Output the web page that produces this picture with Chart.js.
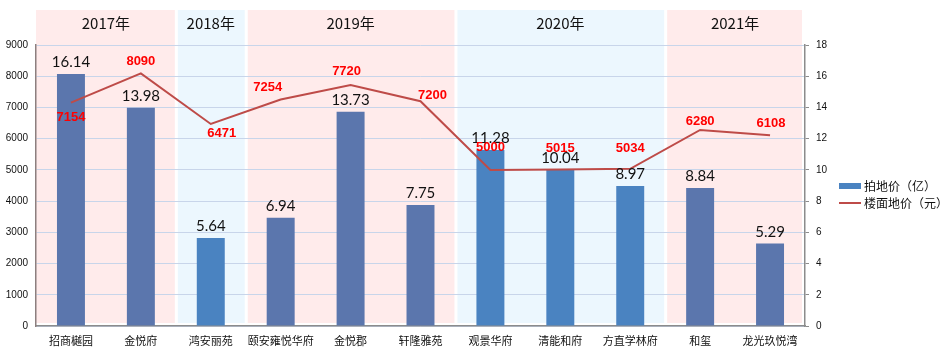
<!DOCTYPE html>
<html>
<head>
<meta charset="utf-8">
<script src="https://cdn.jsdelivr.net/npm/chart.js@4/dist/chart.umd.min.js"></script>
<style>
html,body{margin:0;padding:0;background:#fff;}
#wrap{width:943px;height:357px;position:relative;}
</style>
</head>
<body>
<div id="wrap"><canvas id="c" width="943" height="357"></canvas></div>
<script>
const categories = ['招商樾园','金悦府','鸿安丽苑','颐安雍悦华府','金悦郡','轩隆雅苑','观景华府','清能和府','方直学林府','和玺','龙光玖悦湾'];
const landPrice = [16.14, 13.98, 5.64, 6.94, 13.73, 7.75, 11.28, 10.04, 8.97, 8.84, 5.29];
const floorPrice = [7154, 8090, 6471, 7254, 7720, 7200, 5000, 5015, 5034, 6280, 6108];
const yearLabels = ['2017年','2018年','2019年','2020年','2021年'];
const yearCounts = [2, 1, 3, 3, 2];
const leftTicks = [0,1000,2000,3000,4000,5000,6000,7000,8000,9000];
const rightTicks = [0,2,4,6,8,10,12,14,16,18];
const seriesNames = ['拍地价（亿）','楼面地价（元）'];

// group index of each category (for colours)
const groupOf = [];
yearCounts.forEach((n, g) => { for (let i = 0; i < n; i++) groupOf.push(g); });
const barColors = groupOf.map(g => g % 2 === 0 ? '#5B76AD' : '#4A83C1');

// label placement offsets (dx, dy) for floor price labels
const lineLabelOffsets = [[0,15],[0,-12],[11,9],[-13,-12],[-4,-14],[12,-6],[0,-22],[0,-21],[0,-20],[0,-9],[1,-12]];

const bandsPlugin = {
  id: 'bands',
  beforeDraw(chart) {
    const {ctx, chartArea} = chart;
    const cw = (chartArea.right - chartArea.left) / categories.length;
    let idx = 0;
    ctx.save();
    yearCounts.forEach((n, g) => {
      const l0 = chartArea.left + idx * cw;
      const r0 = chartArea.left + (idx + n) * cw;
      const l = g === 0 ? l0 : l0 + 2;
      const r = g === yearCounts.length - 1 ? r0 - 3 : r0 - 1;
      ctx.fillStyle = g % 2 === 0 ? '#FFEBEB' : '#ECF7FE';
      ctx.fillRect(l, 10, r - l, chartArea.bottom - 3 - 10);
      ctx.fillStyle = '#111';
      ctx.font = '15px "Noto Sans CJK SC"';
      ctx.textAlign = 'center';
      ctx.textBaseline = 'middle';
      ctx.fillText(yearLabels[g], (l0 + r0) / 2, 23);
      idx += n;
    });
    ctx.restore();
  }
};

const labelsPlugin = {
  id: 'vlabels',
  afterDatasetsDraw(chart) {
    const {ctx} = chart;
    ctx.save();
    ctx.textAlign = 'center';
    const barMeta = chart.getDatasetMeta(0);
    ctx.font = '15px Lato';
    ctx.fillStyle = '#111';
    ctx.textBaseline = 'bottom';
    barMeta.data.forEach((el, i) => {
      ctx.fillText(landPrice[i].toFixed(2), el.x, el.y - 4);
    });
    const lineMeta = chart.getDatasetMeta(1);
    ctx.font = 'bold 13px "Liberation Sans"';
    ctx.fillStyle = '#FF0000';
    ctx.textBaseline = 'middle';
    lineMeta.data.forEach((el, i) => {
      const o = lineLabelOffsets[i];
      ctx.fillText(String(floorPrice[i]), el.x + o[0], el.y + o[1]);
    });
    ctx.restore();
  }
};

const legendPlugin = {
  id: 'customLegend',
  afterDraw(chart) {
    const {ctx} = chart;
    ctx.save();
    ctx.fillStyle = '#4A83C1';
    ctx.fillRect(839, 183, 22, 6);
    ctx.strokeStyle = '#BE4B48';
    ctx.lineWidth = 2;
    ctx.beginPath(); ctx.moveTo(839, 203); ctx.lineTo(861, 203); ctx.stroke();
    ctx.fillStyle = '#111';
    ctx.font = '12px "Noto Sans CJK SC"';
    ctx.textAlign = 'left';
    ctx.textBaseline = 'middle';
    ctx.fillText(seriesNames[0], 864, 186);
    ctx.fillText(seriesNames[1], 864, 203);
    ctx.restore();
  }
};

new Chart(document.getElementById('c'), {
  data: {
    labels: categories,
    datasets: [
      {
        type: 'bar', label: seriesNames[0], data: landPrice, yAxisID: 'y1',
        backgroundColor: barColors, barPercentage: 0.4, categoryPercentage: 1, order: 2
      },
      {
        type: 'line', label: seriesNames[1], data: floorPrice, yAxisID: 'y',
        borderColor: '#BE4B48', borderWidth: 2, pointRadius: 0, tension: 0, fill: false, order: 1
      }
    ]
  },
  options: {
    responsive: false,
    animation: false,
    layout: {padding: {top: 45, left: 0, right: 0, bottom: 0}},
    plugins: {legend: {display: false}, tooltip: {enabled: false}},
    scales: {
      x: {
        type: 'category', offset: true,
        grid: {display: false, drawTicks: false},
        border: {color: '#8C8C8C', width: 1.5},
        ticks: {padding: 8, color: '#111', font: {family: '"Noto Sans CJK SC"', size: 11}, maxRotation: 0, autoSkip: false},
        afterFit(s) { s.height = 31; }
      },
      y: {
        position: 'left', min: 0, max: 9000,
        afterBuildTicks(s) { s.ticks = leftTicks.map(v => ({value: v})); },
        grid: {color: '#C8D5EA', lineWidth: 1, drawTicks: false},
        border: {color: '#8C7F7F', width: 1.5},
        ticks: {padding: 8, color: '#111', font: {family: '"Liberation Sans"', size: 10}, callback: v => String(v)},
        afterFit(s) { s.width = 36; }
      },
      y1: {
        position: 'right', min: 0, max: 18,
        afterBuildTicks(s) { s.ticks = rightTicks.map(v => ({value: v})); },
        grid: {drawOnChartArea: false, drawTicks: true, tickLength: 4, color: '#8C8C8C'},
        border: {color: '#8C8C8C', width: 1.5},
        ticks: {padding: 7, color: '#111', font: {family: '"Liberation Sans"', size: 10}, callback: v => String(v)},
        afterFit(s) { s.width = 138; }
      }
    }
  },
  plugins: [bandsPlugin, labelsPlugin, legendPlugin]
});
</script>
</body>
</html>
